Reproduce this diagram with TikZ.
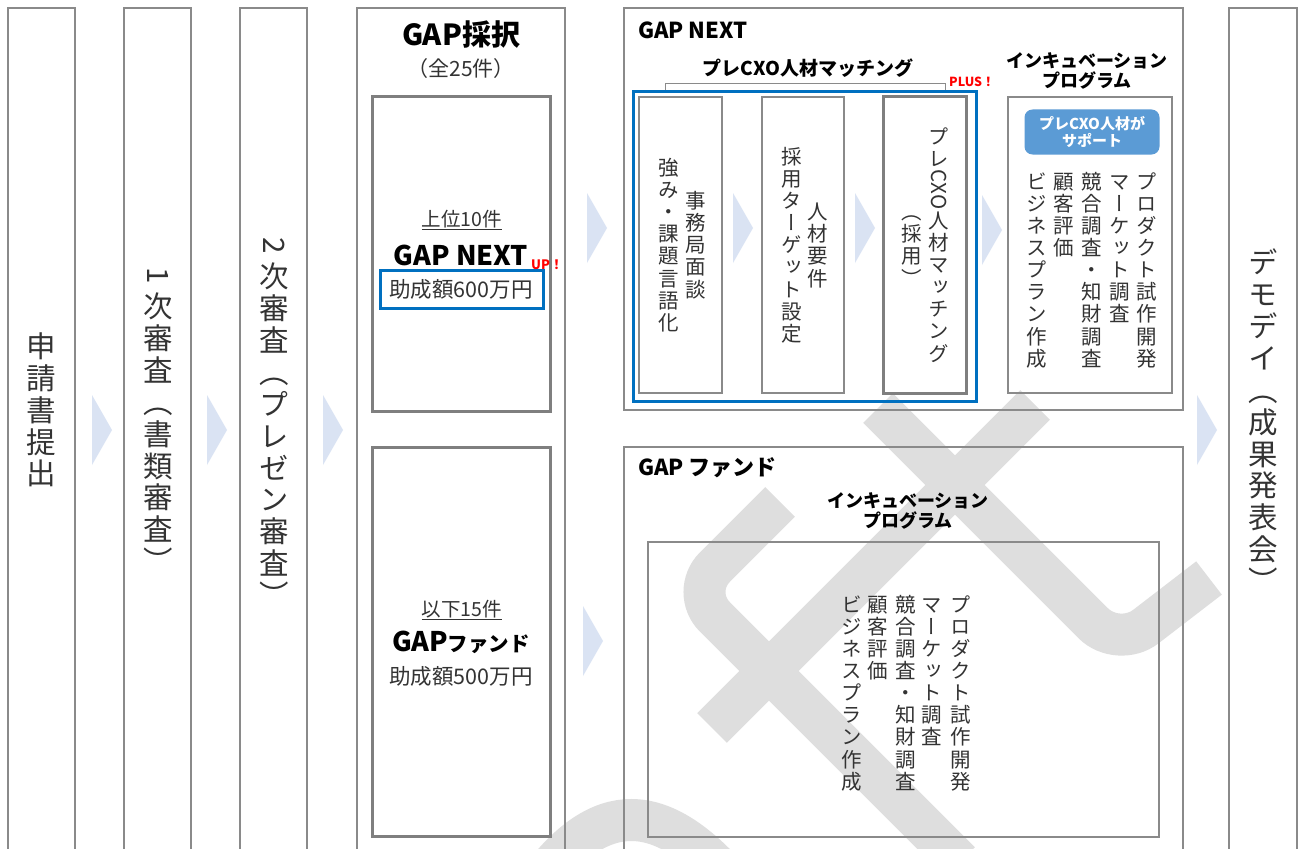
\documentclass[tikz,border=0pt]{standalone}
\usepackage{fontspec}
\usepackage{graphicx}
\setmainfont{Noto Sans CJK JP}
\newfontfamily\tatefont[RawFeature=+vert]{Noto Sans CJK JP}

\definecolor{boxgray}{HTML}{8A8A8A}
\definecolor{darkgray}{HTML}{7F7F7F}
\definecolor{nextblue}{HTML}{0070C0}
\definecolor{supblue}{HTML}{5B9BD5}
\definecolor{chevblue}{HTML}{DAE3F3}
\definecolor{wmgray}{HTML}{DEDEDE}
\definecolor{txt}{HTML}{333333}

% vertical (tategaki) text: one glyph per slot
\newcommand\tatestrut{\vrule height 0.92em depth 0.16em width 0pt}
\newcommand\yoko[1]{\rotatebox[origin=c]{-90}{\normalfont #1}}
\ExplSyntaxOn
\NewDocumentCommand \tate { m }
  {
    \vbox:n
      {
        \offinterlineskip
        \tatefont
        \tl_map_inline:nn {#1} { \hbox_to_wd:nn { 1em } { \tatestrut \hss ##1 \hss } }
      }
  }
\ExplSyntaxOff

\tikzset{
  colbox/.style={draw=boxgray, line width=1.5pt},
  thickbox/.style={draw=darkgray, line width=3pt},
  bluebox/.style={draw=nextblue, line width=3pt},
  wmark/.style={draw=wmgray, line width=42pt},
  bigtate/.style={text=txt, inner sep=0pt, font=\fontsize{29.5}{31}\selectfont},
  smalltate/.style={text=txt, inner sep=0pt, font=\fontsize{20.5}{22}\selectfont},
  plain/.style={text=txt, inner sep=0pt},
  title/.style={inner sep=0pt, font=\bfseries\fontsize{22}{24}\selectfont},
  incub/.style={inner sep=0pt, align=center, font=\bfseries\fontsize{18}{20.5}\selectfont},
  redtag/.style={anchor=west, inner sep=0pt, text=red, font=\bfseries\fontsize{12.5}{14}\selectfont}
}

\begin{document}
\begin{tikzpicture}[x=1pt, y=-1pt]
  \clip (0,0) rectangle (1300,848);
  \fill[white] (0,0) rectangle (1300,848);

  % watermark
  \draw[wmark, rounded corners=35pt] (878,408) -- (1118,648) -- (1209,578);
  \draw[wmark, rounded corners=35pt] (780,502) -- (690,592) -- (960,862);
  \draw[wmark] (1035,405) -- (712,728);
  \draw[wmark] (540,880) .. controls (600,800) and (660,800) .. (730,880);

  % step columns
  \draw[colbox] (8,8) rectangle (75,870);
  \draw[colbox] (124,8) rectangle (191,870);
  \draw[colbox] (240,8) rectangle (307,870);
  \draw[colbox] (357,8) rectangle (565,870);
  \draw[colbox] (624,8) rectangle (1183,410);
  \draw[colbox] (624,447) rectangle (1183,870);
  \draw[colbox] (1229,8) rectangle (1297,870);

  \foreach \cx/\cy in {92/430, 207/430, 323/430, 587/228, 583/641, 733/228, 855/228, 982/230, 1197/430}
    \fill[chevblue] (\cx,\cy-35) -- ++(20,35) -- ++(-20,35) -- cycle;

  \node[bigtate] (apply) at (41.5,410) {\tate{申請書提出}};
  \node[bigtate] (first) at (158,418) {\tate{{\yoko{1}}次審査（書類審査）}};
  \node[bigtate] (second) at (274,420) {\tate{{\yoko{2}}次審査（プレゼン審査）}};
  \node[bigtate] (demo) at (1263,422) {\tate{デモデイ（成果発表会）}};

  % GAP adoption
  \node[inner sep=0pt, font=\bfseries\fontsize{29}{32}\selectfont] (adopt) at (461,35) {GAP採択};
  \node[plain, font=\fontsize{21}{24}\selectfont] (total) at (461,69) {（全25件）};
  \draw[thickbox] (372,97) rectangle (550,411);
  \node[plain, font=\fontsize{19.5}{22}\selectfont] (top10) at (462,220) {\underline{上位10件}};
  \node[inner sep=0pt, font=\bfseries\fontsize{27}{30}\selectfont] (nextname) at (461,255) {GAP NEXT};
  \node[redtag, font=\bfseries\fontsize{13}{15}\selectfont] (up) at (531,265) {UP！};
  \draw[bluebox] (380,270) rectangle (543,308);
  \node[plain, font=\fontsize{21.5}{24}\selectfont] (grant6) at (461,289) {助成額600万円};
  \draw[thickbox] (372,447) rectangle (550,836);
  \node[plain, font=\fontsize{19.5}{22}\selectfont] (under15) at (462,610) {\underline{以下15件}};
  \node[inner sep=0pt, font=\bfseries\fontsize{27}{30}\selectfont] (fundname) at (461,642) {GAP{\fontsize{20.5}{22}\selectfont ファンド}};
  \node[plain, font=\fontsize{21.5}{24}\selectfont] (grant5) at (461,676) {助成額500万円};

  % GAP NEXT
  \node[title, anchor=west] (nexttitle) at (638,30) {GAP NEXT};
  \node[inner sep=0pt, font=\bfseries\fontsize{19}{22}\selectfont] (matching) at (808,68) {プレCXO人材マッチング};
  \draw[boxgray, line width=1pt] (665,91) -- (665,84) -- (945,84) -- (945,91);
  \node[redtag] (plus) at (949,82) {PLUS！};
  \draw[bluebox] (633,92) rectangle (976,401);
  \draw[colbox] (639,97) rectangle (722,393);
  \draw[colbox] (762,97) rectangle (844,393);
  \draw[thickbox] (883,97) rectangle (966,393);
  \node[smalltate] (strength) at (669,245) {\tate{強み・課題言語化}};
  \node[smalltate] (interview) at (696,245) {\tate{事務局面談}};
  \node[smalltate] (target) at (792,245) {\tate{採用ターゲット設定}};
  \node[smalltate] (require) at (818,245) {\tate{人材要件}};
  \node[smalltate] (hire) at (912,245) {\tate{（採用）}};
  \node[smalltate] (cxomatch) at (939,245) {\tate{プレ{\yoko{CXO}}人材マッチング}};

  \node[incub] (nextincub) at (1087,71) {インキュベーション\\プログラム};
  \draw[colbox] (1008,97) rectangle (1172,393);
  \node[fill=supblue, rounded corners=8pt, minimum width=135pt, minimum height=45pt, inner sep=0pt,
        text=white, align=center, font=\bfseries\fontsize{15}{17}\selectfont] (support) at (1092,132) {プレCXO人材が\\サポート};
  \node[smalltate, anchor=north] (nprod) at (1147,170) {\tate{プロダクト試作開発}};
  \node[smalltate, anchor=north] (nmarket) at (1120,170) {\tate{マーケット調査}};
  \node[smalltate, anchor=north] (ncomp) at (1092,170) {\tate{競合調査・知財調査}};
  \node[smalltate, anchor=north] (ncust) at (1064,170) {\tate{顧客評価}};
  \node[smalltate, anchor=north] (nplan) at (1037,170) {\tate{ビジネスプラン作成}};

  % GAP fund
  \node[title, anchor=west] (fundtitle) at (638,468) {GAP ファンド};
  \node[incub] (fundincub) at (908,511) {インキュベーション\\プログラム};
  \draw[colbox] (648,542) rectangle (1159,837);
  \node[smalltate, anchor=north] (fprod) at (961,593) {\tate{プロダクト試作開発}};
  \node[smalltate, anchor=north] (fmarket) at (932,593) {\tate{マーケット調査}};
  \node[smalltate, anchor=north] (fcomp) at (906,593) {\tate{競合調査・知財調査}};
  \node[smalltate, anchor=north] (fcust) at (878,593) {\tate{顧客評価}};
  \node[smalltate, anchor=north] (fplan) at (852,593) {\tate{ビジネスプラン作成}};
\end{tikzpicture}
\end{document}
